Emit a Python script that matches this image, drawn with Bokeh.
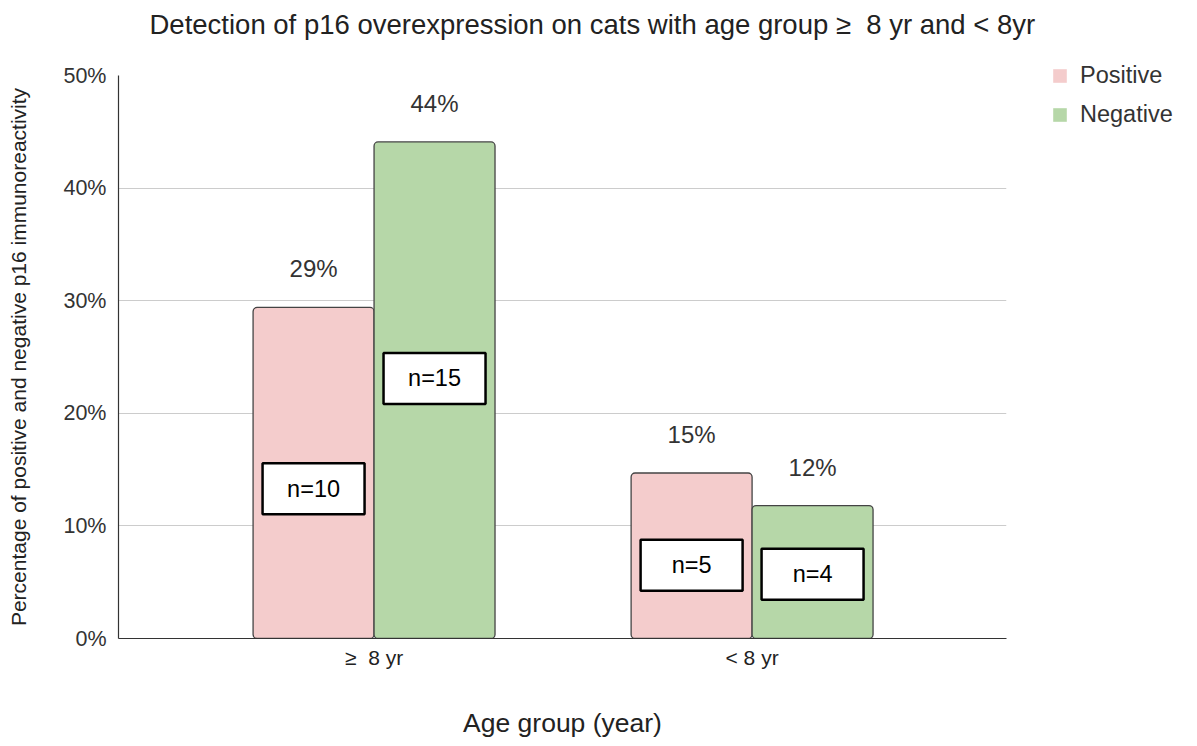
from bokeh.plotting import figure
from bokeh.models import (Range1d, FixedTicker, PrintfTickFormatter, ColumnDataSource,
                          Legend, LegendItem)
from bokeh.core.properties import value
from bokeh.embed import file_html
from bokeh.resources import INLINE

# ---- data ----
categories = ["\u2265\u00a0 8 yr", "< 8 yr"]
positive = [29.4, 14.7]
negative = [44.1, 11.8]
positive_labels = ["29%", "15%"]
negative_labels = ["44%", "12%"]
positive_n = ["n=10", "n=5"]
negative_n = ["n=15", "n=4"]
# vertical placement (in % units) of the "n=" annotation boxes
positive_n_y = [13.3, 6.5]
negative_n_y = [23.1, 5.7]

FONT = "Liberation Sans"
PINK = "#f4cccc"
GREEN = "#b6d7a8"

xs = [i + 0.5 for i in range(len(categories))]
bw = 0.32

p = figure(frame_width=888, frame_height=563, width=1197, height=746,
           x_range=Range1d(-0.176, 2.173), y_range=Range1d(0, 50),
           output_backend="svg", toolbar_location=None,
           min_border_left=118, min_border_right=191, min_border_top=75, min_border_bottom=108)
p.outline_line_color = None
p.background_fill_color = "white"
p.border_fill_color = "white"

# title (second, blank line lifts the visible line towards the top edge)
p.title.text = "Detection of p16 overexpression on cats with age group \u2265\u00a0 8 yr and < 8yr\n\u00a0"
p.title.align = "left"
p.title.offset = 31
p.title.vertical_align = "bottom"
p.title.standoff = 10
p.title.text_font = FONT
p.title.text_font_size = "27.5px"
p.title.text_font_style = "normal"
p.title.text_color = "#222222"

# axes
p.xaxis.ticker = FixedTicker(ticks=xs)
p.xaxis.major_label_overrides = {x: c for x, c in zip(xs, categories)}
p.xaxis.major_tick_line_color = None
p.xaxis.minor_tick_line_color = None
p.xaxis.axis_line_color = "#333333"
p.xaxis.axis_line_width = 1.2
p.xaxis.major_label_text_font = FONT
p.xaxis.major_label_text_font_size = "21px"
p.xaxis.major_label_text_color = "#222222"
p.xaxis.major_label_standoff = 1
p.xaxis.axis_label = "Age group (year)"
p.xaxis.axis_label_text_font = FONT
p.xaxis.axis_label_text_font_size = "26.5px"
p.xaxis.axis_label_text_font_style = "normal"
p.xaxis.axis_label_text_color = "#222222"
p.xaxis.axis_label_standoff = 36

p.yaxis.ticker = FixedTicker(ticks=[0, 10, 20, 30, 40, 50])
p.yaxis.formatter = PrintfTickFormatter(format="%d%%")
p.yaxis.major_tick_line_color = None
p.yaxis.minor_tick_line_color = None
p.yaxis.axis_line_color = "#333333"
p.yaxis.axis_line_width = 1.2
p.yaxis.major_label_text_font = FONT
p.yaxis.major_label_text_font_size = "21.5px"
p.yaxis.major_label_text_color = "#333333"
p.yaxis.major_label_standoff = 6
p.yaxis.axis_label = "Percentage of positive and negative p16 immunoreactivity"
p.yaxis.axis_label_text_font = FONT
p.yaxis.axis_label_text_font_size = "21px"
p.yaxis.axis_label_text_font_style = "normal"
p.yaxis.axis_label_text_color = "#222222"
p.yaxis.axis_label_standoff = 30

p.xgrid.grid_line_color = None
p.ygrid.grid_line_color = "#cccccc"
p.ygrid.grid_line_width = 1

src = ColumnDataSource(dict(
    x=xs,
    xp=[x - bw / 2 for x in xs],
    xn=[x + bw / 2 for x in xs],
    pos=positive, neg=negative,
    pos_lab=positive_labels, neg_lab=negative_labels,
    pos_n=positive_n, neg_n=negative_n,
    pos_ny=positive_n_y, neg_ny=negative_n_y,
))

rp = p.vbar(x="xp", top="pos", width=bw, bottom=0, source=src,
            fill_color=PINK, line_color="#444444", line_width=1.3, border_radius=4)
rn = p.vbar(x="xn", top="neg", width=bw, bottom=0, source=src,
            fill_color=GREEN, line_color="#444444", line_width=1.3, border_radius=4)

# value labels above bars
for xcol, ycol, tcol in [("xp", "pos", "pos_lab"), ("xn", "neg", "neg_lab")]:
    p.text(x=xcol, y=ycol, text=tcol, source=src, text_align="center",
           text_baseline="bottom", y_offset=-25, text_font=value(FONT),
           text_font_size="24px", text_color="#333333")

# n= boxes
p.rect(x="xp", y="pos_ny", width=102, height=51, width_units="screen", height_units="screen",
       source=src, fill_color="white", line_color="black", line_width=2.5)
p.rect(x="xn", y="neg_ny", width=102, height=51, width_units="screen", height_units="screen",
       source=src, fill_color="white", line_color="black", line_width=2.5)
p.text(x="xp", y="pos_ny", text="pos_n", source=src, text_align="center",
       text_baseline="middle", text_font=value(FONT), text_font_size="23.5px", text_color="black")
p.text(x="xn", y="neg_ny", text="neg_n", source=src, text_align="center",
       text_baseline="middle", text_font=value(FONT), text_font_size="23.5px", text_color="black")

# legend swatches: off-range renderers used only for the legend glyphs
lp = p.quad(left=[-10], right=[-9], top=[-10], bottom=[-11], fill_color=PINK, line_color=None)
ln = p.quad(left=[-10], right=[-9], top=[-10], bottom=[-11], fill_color=GREEN, line_color=None)
legend = Legend(items=[LegendItem(label="Positive", renderers=[lp]),
                       LegendItem(label="Negative", renderers=[ln])],
                location=(45, 510), orientation="vertical",
                border_line_color=None, background_fill_alpha=0,
                label_text_font=FONT, label_text_font_size="23.5px", label_text_color="#333333",
                glyph_width=17, glyph_height=17, label_height=27, spacing=12,
                label_standoff=12, padding=10, margin=0)
p.add_layout(legend, "right")

open("out.html", "w").write(file_html(p, INLINE))
